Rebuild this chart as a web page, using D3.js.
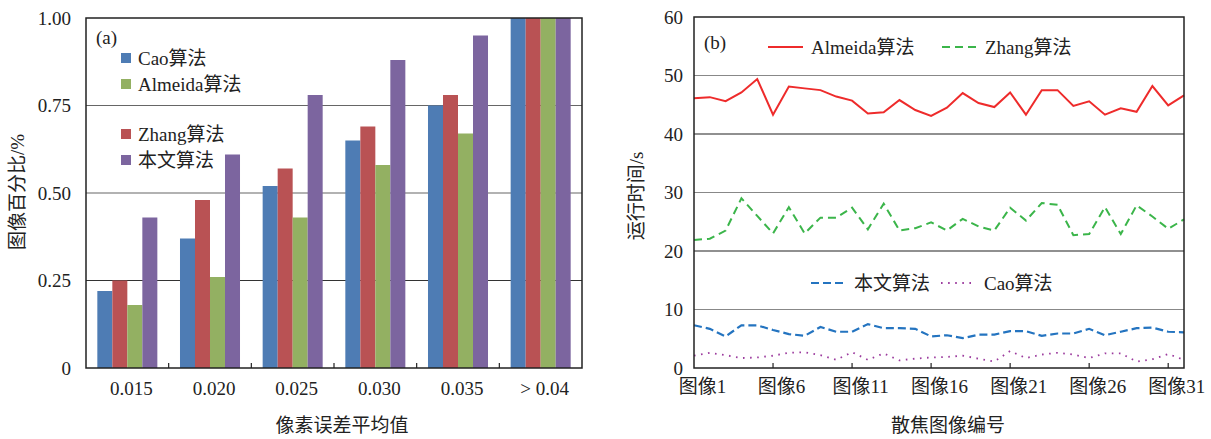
<!DOCTYPE html>
<html>
<head>
<meta charset="utf-8">
<script src="https://cdn.jsdelivr.net/npm/d3@7"></script>
<style>
  html, body { margin: 0; padding: 0; background: #fff; }
  svg text { font-family: "Liberation Serif", "Noto Sans CJK SC", serif; fill: #222; }
</style>
</head>
<body>
<div id="chart"></div>
<script>
// (a) share of images per pixel-error bucket
const errorBuckets = ['0.015', '0.020', '0.025', '0.030', '0.035', '> 0.04'];
const barSeries = ['Cao算法', 'Zhang算法', 'Almeida算法', '本文算法'];
const caoShare = [0.22, 0.37, 0.52, 0.65, 0.75, 1.0];
const zhangShare = [0.25, 0.48, 0.57, 0.69, 0.78, 1.0];
const almeidaShare = [0.18, 0.26, 0.43, 0.58, 0.67, 1.0];
const oursShare = [0.43, 0.61, 0.78, 0.88, 0.95, 1.0];
const shareTicks = [0, 0.25, 0.5, 0.75, 1.0];
const shareTickLabels = ['0', '0.25', '0.50', '0.75', '1.00'];

// (b) run time per defocused image
const imageIndex = [1, 2, 3, 4, 5, 6, 7, 8, 9, 10, 11, 12, 13, 14, 15, 16,
  17, 18, 19, 20, 21, 22, 23, 24, 25, 26, 27, 28, 29, 30, 31, 32];
const almeidaTime = [46.1, 46.3, 45.6, 47.1, 49.4, 43.3, 48.1, 47.8, 47.5, 46.4, 45.7, 43.5, 43.7, 45.8, 44.1, 43.1,
  44.5, 47.0, 45.3, 44.6, 47.1, 43.3, 47.5, 47.5, 44.8, 45.6, 43.3, 44.4, 43.8, 48.2, 44.9, 46.6];
const zhangTime = [21.9, 22.1, 23.5, 29.0, 26.0, 23.0, 27.5, 23.0, 25.7, 25.7, 27.4, 23.7, 28.1, 23.5, 23.9, 24.9,
  23.5, 25.5, 24.2, 23.5, 27.4, 25.2, 28.2, 27.9, 22.7, 22.9, 27.5, 22.9, 27.8, 25.9, 23.8, 25.4];
const oursTime = [7.3, 6.7, 5.4, 7.3, 7.3, 6.5, 5.8, 5.5, 7.0, 6.2, 6.2, 7.5, 6.8, 6.8, 6.7, 5.4,
  5.6, 5.1, 5.7, 5.7, 6.3, 6.3, 5.5, 5.9, 5.9, 6.7, 5.6, 6.2, 6.8, 6.9, 6.2, 6.1];
const caoTime = [2.1, 2.6, 2.2, 1.7, 1.8, 2.1, 2.6, 2.7, 2.2, 1.4, 2.7, 1.4, 2.5, 1.3, 1.6, 1.8,
  1.9, 2.1, 1.6, 1.1, 2.9, 1.7, 2.3, 2.6, 2.3, 1.7, 2.5, 2.5, 1.1, 1.5, 2.4, 1.4];
const timeTicks = [0, 10, 20, 30, 40, 50, 60];
const imageTicks = [1, 6, 11, 16, 21, 26, 31];

const width = 1211;
const height = 439;
const svg = d3.select('#chart').append('svg')
  .attr('width', width)
  .attr('height', height);

// ---------- panel (a) ----------
const marginA = { left: 86, right: 582, top: 18, bottom: 368 };
const barColors = ['#4e7cb4', '#b95254', '#93b062', '#7c659f'];
const barValues = [caoShare, zhangShare, almeidaShare, oursShare];

const x0 = d3.scaleBand().domain(errorBuckets).range([marginA.left, marginA.right]);
const x1 = d3.scaleBand().domain(barSeries).range([0, x0.bandwidth()]).paddingOuter(0.755);
const yA = d3.scaleLinear().domain([0, 1]).range([marginA.bottom, marginA.top]);

const gA = svg.append('g');

// gridlines
gA.selectAll('.gridA')
  .data(shareTicks.filter(t => t > 0 && t < 1))
  .enter().append('line')
  .attr('x1', marginA.left).attr('x2', marginA.right)
  .attr('y1', d => yA(d)).attr('y2', d => yA(d))
  .attr('stroke', (d, i) => (i === 0 ? '#333' : '#666'))
  .attr('stroke-width', 1.2);

// bars
barSeries.forEach((name, s) => {
  gA.append('g').selectAll('rect')
    .data(errorBuckets.map((b, i) => ({ b, v: barValues[s][i] })))
    .enter().append('rect')
    .attr('x', d => x0(d.b) + x1(name))
    .attr('width', x1.bandwidth())
    .attr('y', d => yA(d.v))
    .attr('height', d => yA(0) - yA(d.v))
    .attr('fill', barColors[s]);
});

// frame
gA.append('rect')
  .attr('x', marginA.left).attr('y', marginA.top)
  .attr('width', marginA.right - marginA.left)
  .attr('height', marginA.bottom - marginA.top)
  .attr('fill', 'none').attr('stroke', '#222').attr('stroke-width', 1.5);

// y axis labels
gA.selectAll('.ytickA')
  .data(shareTicks)
  .enter().append('text')
  .attr('x', marginA.left - 15)
  .attr('y', d => yA(d))
  .attr('dy', '0.35em')
  .attr('text-anchor', 'end')
  .style('font-size', '19px')
  .text((d, i) => shareTickLabels[i]);

// x axis: ticks between buckets, pointing inward
const xAxisA = d3.axisBottom(x0).tickSize(0).tickPadding(14);
const xAxisG = gA.append('g')
  .attr('transform', `translate(0,${marginA.bottom})`)
  .call(xAxisA);
xAxisG.select('.domain').remove();
xAxisG.selectAll('text')
  .attr('dx', 4)
  .style('font-size', '19px')
  .style('font-family', '"Liberation Serif", serif')
  .attr('fill', '#222');
gA.selectAll('.bucketTick')
  .data(errorBuckets.slice(1))
  .enter().append('line')
  .attr('x1', d => x0(d)).attr('x2', d => x0(d))
  .attr('y1', marginA.bottom).attr('y2', marginA.bottom - 5)
  .attr('stroke', '#222').attr('stroke-width', 1.2);

// titles
gA.append('text')
  .attr('x', 342).attr('y', 425).attr('dy', '0.35em')
  .attr('text-anchor', 'middle')
  .style('font-size', '19px')
  .text('像素误差平均值');
gA.append('text')
  .attr('transform', 'translate(17,192) rotate(-90)')
  .attr('dy', '0.35em')
  .attr('text-anchor', 'middle')
  .style('font-size', '19px')
  .text('图像百分比/%');
gA.append('text')
  .attr('x', 96).attr('y', 37).attr('dy', '0.35em')
  .style('font-size', '19px')
  .text('(a)');

// legend, two pairs
const legendA = [
  { name: 'Cao算法', color: barColors[0], y: 58 },
  { name: 'Almeida算法', color: barColors[2], y: 84 },
  { name: 'Zhang算法', color: barColors[1], y: 134 },
  { name: '本文算法', color: barColors[3], y: 160 }
];
legendA.forEach(l => {
  gA.append('rect')
    .attr('x', 121).attr('y', l.y - 5)
    .attr('width', 10).attr('height', 10)
    .attr('fill', l.color);
  gA.append('text')
    .attr('x', 138).attr('y', l.y).attr('dy', '0.35em')
    .style('font-size', '19px')
    .text(l.name);
});

// ---------- panel (b) ----------
const marginB = { left: 694, right: 1184, top: 17, bottom: 368 };
const xB = d3.scaleLinear().domain([1, 32]).range([marginB.left, marginB.right]);
const yB = d3.scaleLinear().domain([0, 60]).range([marginB.bottom, marginB.top]);
const gB = svg.append('g');

gB.selectAll('.gridB')
  .data(timeTicks.filter(t => t > 0 && t < 60))
  .enter().append('line')
  .attr('x1', marginB.left).attr('x2', marginB.right)
  .attr('y1', d => yB(d)).attr('y2', d => yB(d))
  .attr('stroke', d => (d % 20 === 0 ? '#222' : '#888'))
  .attr('stroke-width', 1.2);

const lineSpecs = [
  { values: almeidaTime, color: '#ee2b2b', dash: null, width: 2 },
  { values: zhangTime, color: '#3bb54a', dash: '8,5', width: 2 },
  { values: oursTime, color: '#2474c0', dash: '8,4', width: 2.2 },
  { values: caoTime, color: '#9c3b9e', dash: '1.6,5.5', width: 1.8 }
];
const lineGen = d3.line().x(d => xB(d[0])).y(d => yB(d[1]));
lineSpecs.forEach(spec => {
  gB.append('path')
    .datum(imageIndex.map((id, i) => [id, spec.values[i]]))
    .attr('d', lineGen)
    .attr('fill', 'none')
    .attr('stroke', spec.color)
    .attr('stroke-width', spec.width)
    .attr('stroke-dasharray', spec.dash);
});

gB.append('rect')
  .attr('x', marginB.left).attr('y', marginB.top)
  .attr('width', marginB.right - marginB.left)
  .attr('height', marginB.bottom - marginB.top)
  .attr('fill', 'none').attr('stroke', '#222').attr('stroke-width', 1.5);

gB.selectAll('.ytickB')
  .data(timeTicks)
  .enter().append('text')
  .attr('x', marginB.left - 11)
  .attr('y', d => yB(d))
  .attr('dy', '0.35em')
  .attr('text-anchor', 'end')
  .style('font-size', '19px')
  .text(d => d);

const xAxisB = d3.axisBottom(xB)
  .tickValues(imageTicks)
  .tickFormat(d => `图像${d}`)
  .tickSize(0)
  .tickPadding(12);
const xAxisBG = gB.append('g')
  .attr('transform', `translate(0,${marginB.bottom})`)
  .call(xAxisB);
xAxisBG.select('.domain').remove();
xAxisBG.selectAll('text')
  .attr('dx', 8)
  .style('font-size', '19px')
  .style('font-family', '"Liberation Serif", "Noto Sans CJK SC", serif')
  .attr('fill', '#222');
gB.selectAll('.imgTick')
  .data(imageTicks.slice(1))
  .enter().append('line')
  .attr('x1', d => xB(d)).attr('x2', d => xB(d))
  .attr('y1', marginB.bottom).attr('y2', marginB.bottom - 5)
  .attr('stroke', '#222').attr('stroke-width', 1.2);

gB.append('text')
  .attr('x', 948).attr('y', 425).attr('dy', '0.35em')
  .attr('text-anchor', 'middle')
  .style('font-size', '19px')
  .text('散焦图像编号');
gB.append('text')
  .attr('transform', 'translate(636,196) rotate(-90)')
  .attr('dy', '0.35em')
  .attr('text-anchor', 'middle')
  .style('font-size', '19px')
  .text('运行时间/s');
gB.append('text')
  .attr('x', 704).attr('y', 42).attr('dy', '0.35em')
  .style('font-size', '19px')
  .text('(b)');

const legendB = [
  { name: 'Almeida算法', spec: lineSpecs[0], x: 768, y: 47 },
  { name: 'Zhang算法', spec: lineSpecs[1], x: 942, y: 47 },
  { name: '本文算法', spec: lineSpecs[2], x: 811, y: 283 },
  { name: 'Cao算法', spec: lineSpecs[3], x: 941, y: 283 }
];
legendB.forEach(l => {
  gB.append('line')
    .attr('x1', l.x).attr('x2', l.x + 35)
    .attr('y1', l.y).attr('y2', l.y)
    .attr('stroke', l.spec.color)
    .attr('stroke-width', l.spec.width)
    .attr('stroke-dasharray', l.spec.dash);
  gB.append('text')
    .attr('x', l.x + 43).attr('y', l.y).attr('dy', '0.35em')
    .style('font-size', '19px')
    .text(l.name);
});
</script>
</body>
</html>
